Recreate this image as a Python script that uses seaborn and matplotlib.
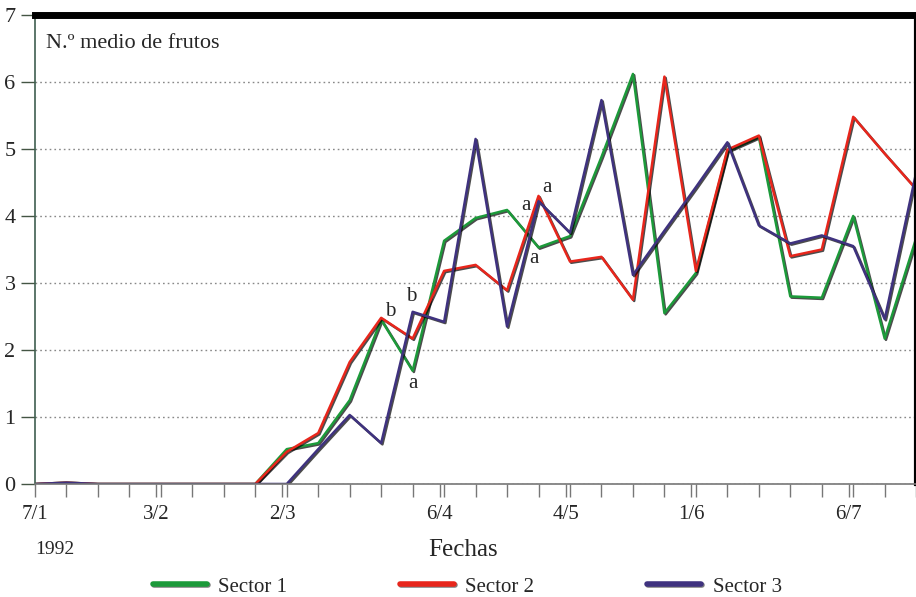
import numpy as np
import pandas as pd
import matplotlib
matplotlib.use("Agg")
import matplotlib.pyplot as plt
import matplotlib.patheffects as pe
import seaborn as sns

# Weekly sampling dates, 1992
fechas = pd.date_range("1992-01-07", periods=29, freq="7D")

sector_1 = [0, 0.02, 0, 0, 0, 0, 0, 0, 0.52, 0.61, 1.25, 2.45, 1.69, 3.63, 3.97, 4.09,
            3.53, 3.70, 4.88, 6.12, 2.55, 3.15, 4.97, 5.18, 2.80, 2.78, 4.00, 2.17, 3.67]
sector_2 = [0, 0.02, 0, 0, 0, 0, 0, 0, 0.48, 0.76, 1.82, 2.48, 2.17, 3.18, 3.27, 2.89,
            4.30, 3.32, 3.39, 2.75, 6.08, 3.18, 4.99, 5.20, 3.40, 3.50, 5.48, 4.93, 4.40]
sector_3 = [0, 0.02, 0, 0, 0, 0, 0, 0, 0, 0.52, 1.03, 0.61, 2.57, 2.42, 5.15, 2.35,
            4.22, 3.75, 5.73, 3.12, 3.78, 4.43, 5.10, 3.86, 3.59, 3.71, 3.55, 2.46, 4.65]

sectores = ["Sector 1", "Sector 2", "Sector 3"]
colores = ["#1c9a3a", "#e8261c", "#3f327f"]

tick_fechas = pd.to_datetime(["1992-01-07", "1992-02-03", "1992-03-02", "1992-04-06",
                              "1992-05-04", "1992-06-01", "1992-07-06"])
tick_labels = ["7/1", "3/2", "2/3", "6/4", "4/5", "1/6", "6/7"]

# Significance letters: (text, week offset, value)
letras = [("b", 11.3, 2.58), ("b", 11.95, 2.80), ("a", 12.0, 1.50),
          ("a", 15.6, 4.16), ("a", 16.27, 4.43), ("a", 15.86, 3.37)]

df = pd.DataFrame({
    "Fecha": np.tile(fechas, 3),
    "Frutos": sector_1 + sector_2 + sector_3,
    "Sector": np.repeat(sectores, len(fechas)),
})

sns.set_style("white")
plt.rcParams["font.family"] = ["Liberation Serif", "DejaVu Serif"]

fig = plt.figure(figsize=(9.16, 5.97), dpi=100)
ax = fig.add_axes([0.0382, 0.1893, 0.962, 0.7856])

sns.lineplot(data=df, x="Fecha", y="Frutos", hue="Sector", palette=colores,
             linewidth=1.8, ax=ax, legend=True)
for ln in ax.lines:
    ln.set_path_effects([pe.SimpleLineShadow(offset=(0.9, -0.9), shadow_color="k", alpha=0.7),
                         pe.Normal()])

ax.set_ylim(0, 7)
ax.set_xlim(fechas[0], fechas[-1])
ax.set_yticks(range(8))
ax.set_yticklabels([str(i) for i in range(8)], fontsize=16)
ax.set_xticks(tick_fechas)
ax.set_xticklabels(tick_labels, fontsize=15)
ax.set_xticks(fechas, minor=True)
ax.tick_params(axis="x", which="both", direction="out", length=9, width=1, color="#777777",
               pad=6, bottom=True)
ax.tick_params(axis="y", direction="out", length=10, width=1, color="#445544", pad=4, left=True)

ax.yaxis.grid(True, linestyle=(0, (1.2, 2.2)), color="#888888", linewidth=1)
ax.xaxis.grid(False)

ax.spines["top"].set_linewidth(5)
ax.spines["top"].set_color("black")
ax.spines["right"].set_linewidth(3)
ax.spines["right"].set_color("black")
ax.spines["left"].set_color("#3f5f50")
ax.spines["left"].set_linewidth(1.2)
ax.spines["bottom"].set_color("#777777")
ax.spines["bottom"].set_linewidth(1.2)

ax.set_ylabel("")
ax.set_xlabel("Fechas", fontsize=18)
ax.xaxis.set_label_coords(0.486, -0.118)
ax.text(0.0, -0.14, "1992", transform=ax.transAxes, fontsize=14, ha="left", va="center")
ax.text(0.012, 0.94, "N.º medio de frutos", transform=ax.transAxes, fontsize=16,
        ha="left", va="center")

for txt, semana, valor in letras:
    ax.text(fechas[0] + pd.Timedelta(weeks=semana), valor, txt, fontsize=15,
            ha="center", va="center")

handles, labels = ax.get_legend_handles_labels()
ax.get_legend().remove()
leg = fig.legend(handles, labels, loc="center", bbox_to_anchor=(0.51, 0.017), ncol=3,
                 frameon=False, fontsize=15, handlelength=2.6, handletextpad=0.55,
                 columnspacing=5.4)
for h in leg.get_lines():
    h.set_linewidth(4)
    h.set_path_effects([pe.SimpleLineShadow(offset=(0.8, -0.8), shadow_color="k", alpha=0.5),
                        pe.Normal()])

fig.savefig("out.png", dpi=100, facecolor="white")
